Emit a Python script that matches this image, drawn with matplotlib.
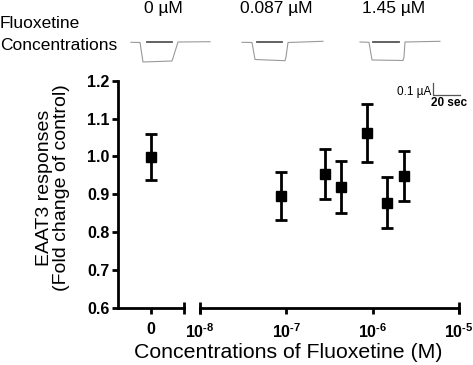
import matplotlib.pyplot as plt

plt.rcParams['font.family'] = ['Liberation Sans', 'DejaVu Sans']
plt.rcParams['mathtext.fontset'] = 'custom'
plt.rcParams['mathtext.rm'] = 'Liberation Sans:bold'
plt.rcParams['mathtext.bf'] = 'Liberation Sans:bold'

# data
ctrl_x = [0]
ctrl_y = [0.999]
ctrl_err = [0.06]

conc = [8.7e-8, 2.83e-7, 4.3e-7, 8.6e-7, 1.45e-6, 2.29e-6]
resp = [0.895, 0.954, 0.919, 1.062, 0.878, 0.949]
err = [0.064, 0.066, 0.069, 0.077, 0.068, 0.066]

yticks = [0.6, 0.7, 0.8, 0.9, 1.0, 1.1, 1.2]
log_ticks = [1e-8, 1e-7, 1e-6, 1e-5]
log_labels = [r'$10^{\text{-8}}$', r'$10^{\text{-7}}$', r'$10^{\text{-6}}$', r'$10^{\text{-5}}$']

trace_labels = ['0 µM', '0.087 µM', '1.45 µM']
label_x = [163, 276, 394]
# example current traces (pixel coords of the inset recordings)
traces_x = [[131, 140, 143, 172, 173, 178, 210],
            [242, 252, 255, 285, 286, 288, 323],
            [360, 369, 372, 403, 404, 405, 440]]
traces_y = [[42.3, 42.5, 62.0, 61.0, 58, 42.0, 41.7],
            [42.3, 42.5, 59.5, 60.7, 57, 42.5, 41.3],
            [42.0, 42.3, 60.0, 60.5, 57, 42.0, 41.3]]
bars_x = [[147, 172], [257, 282], [373, 399]]

W, H = 473, 365
fig = plt.figure(figsize=(W / 100, H / 100), dpi=100)

lw = 2.0
axL = fig.add_axes([118 / W, 1 - 308 / H, (184 - 118) / W, (308 - 80.7) / H])
axR = fig.add_axes([200 / W, 1 - 308 / H, (459 - 200) / W, (308 - 80.7) / H])

for ax in (axL, axR):
    ax.set_ylim(0.6, 1.2)
    ax.patch.set_alpha(0)
    for s in ['top', 'right']:
        ax.spines[s].set_visible(False)
    ax.spines['bottom'].set_linewidth(lw)
    ax.spines['left'].set_linewidth(lw)
    ax.tick_params(width=lw, length=4, labelsize=11.5, pad=6)

axL.errorbar(ctrl_x, ctrl_y, yerr=ctrl_err, fmt='s', color='black', ms=7,
             elinewidth=2, capsize=4.5, capthick=2)
axL.set_xlim(-1, 1)
axL.set_xticks([0])
axL.set_xticklabels(['0'], fontweight='bold')
axL.set_yticks(yticks)
axL.set_yticklabels([f'{v:.1f}' for v in yticks], fontweight='bold')
axL.tick_params(axis='y', pad=2)
axL.plot([1], [0], marker='|', ms=9, mew=lw, color='black',
         transform=axL.transAxes, clip_on=False)

axR.errorbar(conc, resp, yerr=err, fmt='s', color='black', ms=7,
             elinewidth=2, capsize=4.5, capthick=2)
axR.set_xscale('log')
axR.set_xlim(1e-8, 1e-5)
axR.set_xticks(log_ticks)
axR.set_xticklabels(log_labels)
axR.minorticks_off()
axR.spines['left'].set_visible(False)
axR.set_yticks([])
for xa in (0, 1):
    axR.plot([xa], [0], marker='|', ms=9, mew=lw, color='black',
             transform=axR.transAxes, clip_on=False)

fig.text(53 / W, 1 - 188 / H, 'EAAT3 responses\n(Fold change of control)',
         fontsize=14, rotation=90, ha='center',
         va='center', multialignment='center', linespacing=1.05)
fig.text(288 / W, 1 - 352 / H, 'Concentrations of Fluoxetine (M)',
         ha='center', va='center', fontsize=15.3)

# overlay in pixel coords for recordings and scale bar
ov = fig.add_axes([0, 0, 1, 1])
ov.set_xlim(0, W)
ov.set_ylim(H, 0)
ov.axis('off')
ov.patch.set_alpha(0)

ov.text(0, 24, 'Fluoxetine', fontsize=12.5, va='center', ha='left')
ov.text(0, 45, 'Concentrations', fontsize=12.5, va='center', ha='left')
for lx, lab in zip(label_x, trace_labels):
    ov.text(lx, 8, lab, fontsize=12.5, ha='center', va='center')
for tx, ty, bx in zip(traces_x, traces_y, bars_x):
    ov.plot(tx, ty, color='#9a9a9a', lw=0.8)
    ov.plot(bx, [41.8, 41.8], color='#555555', lw=1.3)

ov.text(431, 92, '0.1 µA', fontsize=8.5, ha='right', va='center')
ov.plot([433, 433, 460], [83, 95, 95], color='#555555', lw=0.9)
ov.text(449, 103, '20 sec', fontsize=8.5, ha='center', va='center',
        fontweight='bold')

fig.savefig('out.png', dpi=100)
